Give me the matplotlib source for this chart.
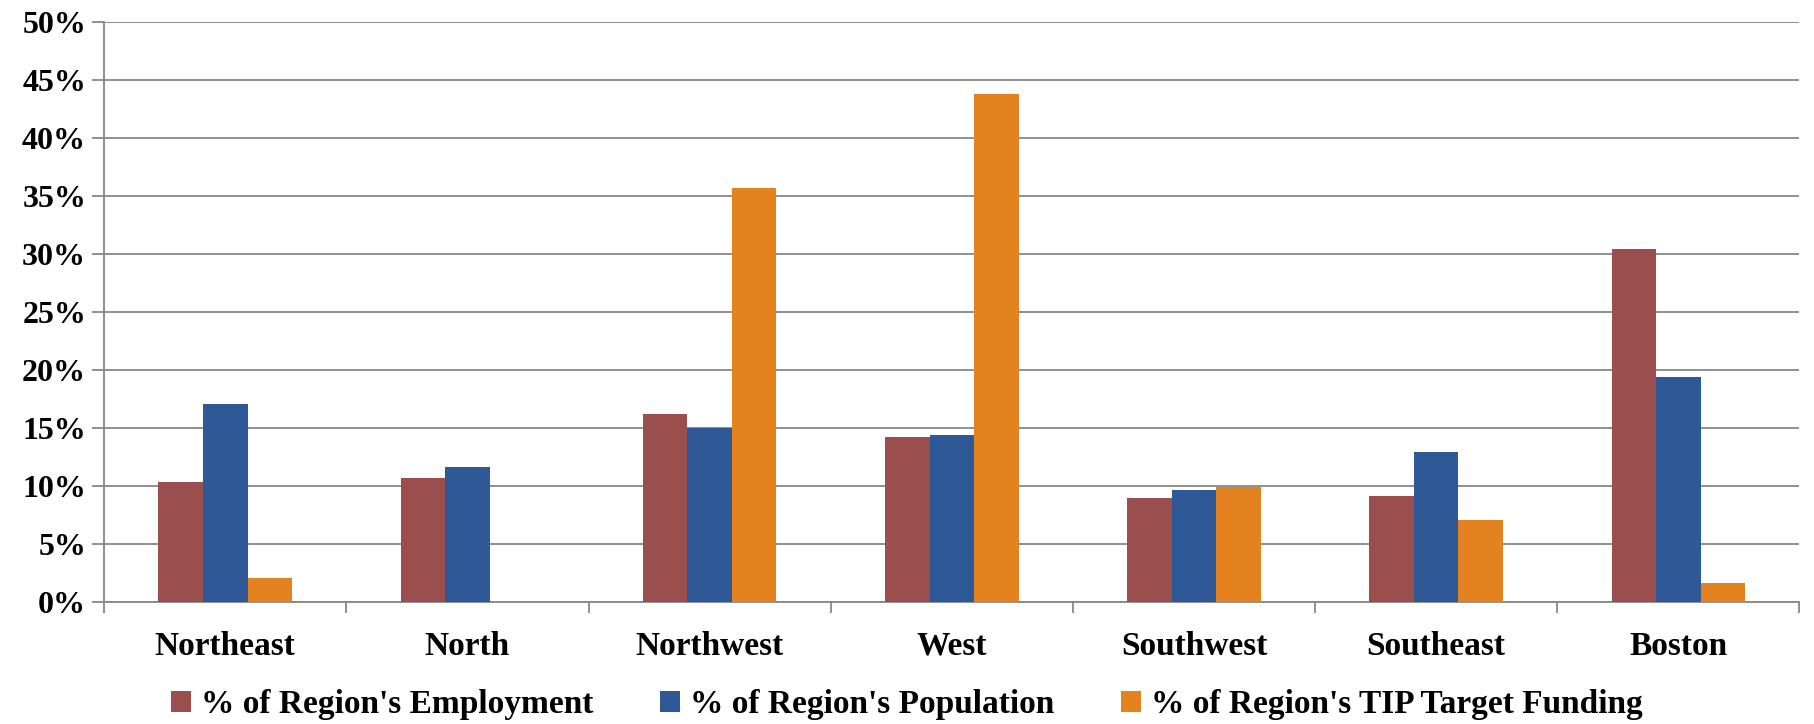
import matplotlib.pyplot as plt
import numpy as np
from matplotlib.ticker import MultipleLocator, FuncFormatter

regions = ['Northeast', 'North', 'Northwest', 'West', 'Southwest', 'Southeast', 'Boston']
employment = [10.35, 10.65, 16.2, 14.2, 8.95, 9.1, 30.4]
population = [17.05, 11.65, 15.0, 14.4, 9.6, 12.9, 19.4]
tip_funding = [2.0, 0.0, 35.7, 43.8, 9.9, 7.05, 1.6]
series_names = ["% of Region's Employment", "% of Region's Population",
                "% of Region's TIP Target Funding"]
colors = ['#9A4F4E', '#2E5896', '#E58220']

plt.rcParams['font.family'] = ['Liberation Serif', 'DejaVu Serif']
plt.rcParams['font.weight'] = 'bold'

fig = plt.figure(figsize=(18.14, 7.24), dpi=100)
ax = fig.add_axes([0.0574, 0.169, 0.9346, 0.801])

x = np.arange(len(regions))
w = 0.184
for i, (vals, name, c) in enumerate(zip([employment, population, tip_funding], series_names, colors)):
    ax.bar(x + (i - 1) * w, vals, width=w, color=c, label=name, zorder=3)

ax.set_xlim(-0.5, len(regions) - 0.5)
ax.set_ylim(0, 50)
ax.yaxis.set_major_locator(MultipleLocator(5))
ax.yaxis.set_major_formatter(FuncFormatter(lambda v, p: f'{int(v)}%'))
ax.grid(axis='y', color='#868686', linewidth=1.3, zorder=0)

ax.set_xticks(x)
ax.set_xticklabels(regions)
ax.set_xticks(np.arange(-0.5, len(regions), 1), minor=True)
ax.tick_params(axis='x', which='major', length=0, pad=21, labelsize=24)
ax.tick_params(axis='x', which='minor', length=8, width=1.3, color='#868686', direction='out')
ax.tick_params(axis='y', length=9, width=1.3, color='#868686', labelsize=23, pad=4)

for side in ['top', 'right']:
    ax.spines[side].set_visible(False)
for side in ['left', 'bottom']:
    ax.spines[side].set_color('#868686')
    ax.spines[side].set_linewidth(1.3)

fig.legend(loc='lower center', bbox_to_anchor=(0.5, -0.036), ncol=3, frameon=False,
           fontsize=24, handlelength=0.6, handleheight=0.6, handletextpad=0.3,
           columnspacing=2.0)

fig.savefig('out.png', dpi=100)
